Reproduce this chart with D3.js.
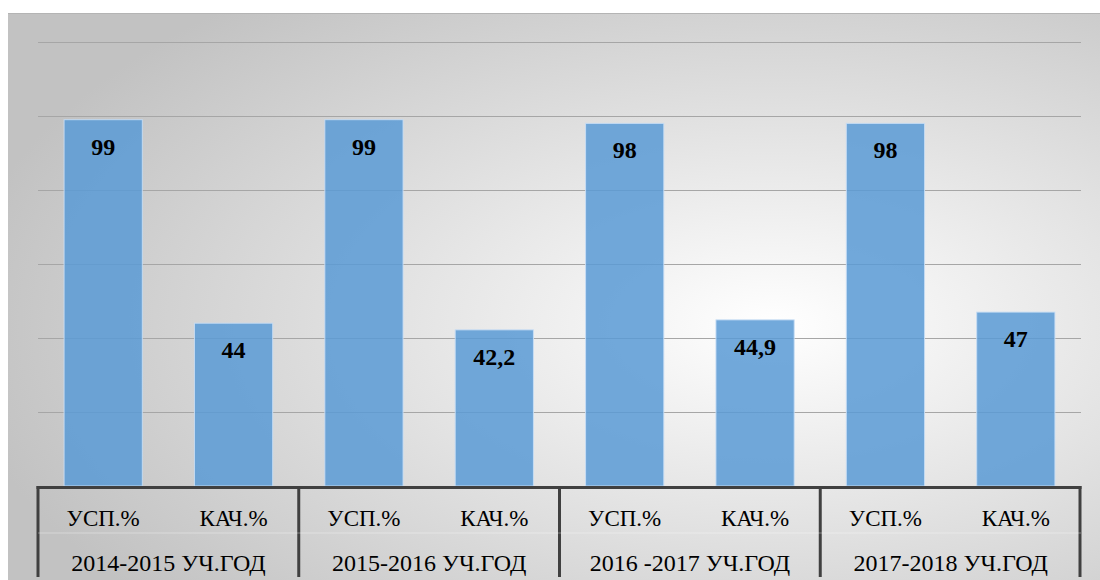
<!DOCTYPE html>
<html>
<head>
<meta charset="utf-8">
<script src="https://cdn.jsdelivr.net/npm/d3@7"></script>
<style>
  html, body { margin: 0; padding: 0; background: #fff; }
  svg { display: block; }
</style>
</head>
<body>
<div id="chart"></div>
<script>
// data
const years = ['2014-2015 УЧ.ГОД', '2015-2016 УЧ.ГОД', '2016 -2017 УЧ.ГОД', '2017-2018 УЧ.ГОД'];
const series = ['УСП.%', 'КАЧ.%'];
const uspValues = [99, 99, 98, 98];
const kachValues = [44, 42.2, 44.9, 47];
const gridTicks = [20, 40, 60, 80, 100, 120];

const W = 1100, H = 580;
const plotLeft = 38, plotRight = 1081, plotTop = 42, plotBottom = 486;
const serifFont = "'Liberation Serif', Tinos, 'DejaVu Serif', serif";

let svg = d3.select('#chart').append('svg')
  .attr('width', W)
  .attr('height', H)
  .style('font-family', serifFont);

// radial background like the office chart area
let defs = svg.append('defs');
let grad = defs.append('radialGradient')
  .attr('id', 'bg')
  .attr('cx', '70%').attr('cy', '55%').attr('r', '75%');
grad.append('stop').attr('offset', '0%').attr('stop-color', '#ffffff');
grad.append('stop').attr('offset', '100%').attr('stop-color', '#c2c2c2');

svg.append('rect')
  .attr('x', 8).attr('y', 13)
  .attr('width', W - 8).attr('height', H - 13)
  .attr('fill', 'url(#bg)');
svg.append('line')
  .attr('x1', 8).attr('x2', W).attr('y1', 13.5).attr('y2', 13.5)
  .attr('stroke', '#b4b4b4');

let x0 = d3.scaleBand().domain(years).range([plotLeft, plotRight]);
let x1 = d3.scaleBand().domain(series).range([0, x0.bandwidth()])
  .paddingInner(0.4).paddingOuter(0.2);
let y = d3.scaleLinear().domain([0, 120]).range([plotBottom, plotTop]);

// gridlines
svg.append('g').selectAll('line').data(gridTicks).enter()
  .append('line')
  .attr('x1', plotLeft).attr('x2', plotRight)
  .attr('y1', d => y(d) + 0.5).attr('y2', d => y(d) + 0.5)
  .attr('stroke', '#a6a6a6')
  .attr('stroke-width', 1.2);

let rows = years.map((yr, i) => ({ year: yr, vals: [uspValues[i], kachValues[i]] }));

let groups = svg.append('g').selectAll('g.grp').data(rows).enter()
  .append('g')
  .attr('class', 'grp')
  .attr('transform', d => `translate(${x0(d.year)},0)`);

let bars = groups.selectAll('g.bar')
  .data(d => series.map((s, j) => ({ s: s, v: d.vals[j] })))
  .enter().append('g').attr('class', 'bar');

bars.append('rect')
  .attr('x', d => x1(d.s))
  .attr('y', d => y(d.v))
  .attr('width', x1.bandwidth())
  .attr('height', d => y(0) - y(d.v))
  .attr('fill', 'rgba(91,155,213,0.86)')
  .attr('stroke', 'rgba(200,222,245,0.9)')
  .attr('stroke-width', 1);

bars.append('text')
  .attr('x', d => x1(d.s) + x1.bandwidth() / 2)
  .attr('y', d => y(d.v) + 35)
  .attr('text-anchor', 'middle')
  .attr('font-family', serifFont)
  .attr('font-weight', 'bold')
  .attr('font-size', 24)
  .attr('fill', '#000')
  .text(d => String(d.v).replace('.', ','));

// category axis (two-level)
let axis = svg.append('g');
axis.append('line')
  .attr('x1', plotLeft - 1.5).attr('x2', plotRight + 0.5)
  .attr('y1', plotBottom + 1.5).attr('y2', plotBottom + 1.5)
  .attr('stroke', '#404040').attr('stroke-width', 3);
let bounds = years.map(d => x0(d)).concat([plotRight - 1]);
axis.selectAll('line.div').data(bounds).enter()
  .append('line')
  .attr('class', 'div')
  .attr('x1', d => d).attr('x2', d => d)
  .attr('y1', plotBottom).attr('y2', 577)
  .attr('stroke', '#404040').attr('stroke-width', 3);
axis.append('line')
  .attr('x1', plotLeft).attr('x2', plotRight)
  .attr('y1', 533).attr('y2', 533)
  .attr('stroke', '#ffffff').attr('stroke-opacity', 0.35);

groups.selectAll('text.cat').data(series).enter()
  .append('text')
  .attr('class', 'cat')
  .attr('x', d => x1(d) + x1.bandwidth() / 2)
  .attr('y', 526)
  .attr('text-anchor', 'middle')
  .attr('font-family', serifFont)
  .attr('font-size', 23)
  .attr('fill', '#000')
  .text(d => d);

groups.append('text')
  .attr('x', x0.bandwidth() / 2)
  .attr('y', 571)
  .attr('text-anchor', 'middle')
  .attr('font-family', serifFont)
  .attr('font-size', 24)
  .attr('fill', '#000')
  .text(d => d.year);
</script>
</body>
</html>
